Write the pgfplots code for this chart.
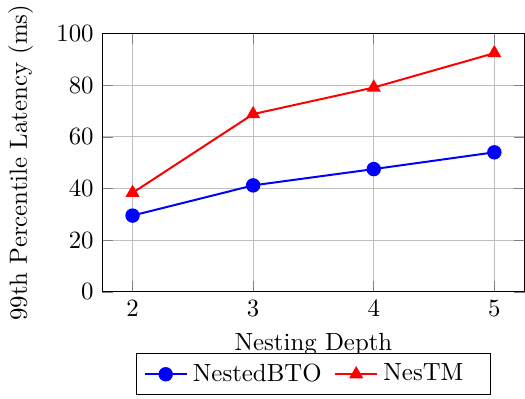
\documentclass[border=0pt]{standalone}
\usepackage{pgfplots}
\pgfplotsset{compat=1.18}
\usetikzlibrary{calc}
\begin{document}
\begin{tikzpicture}
\begin{axis}[
  name=ax,
  scale only axis,
  width=170pt, height=104pt,
  xmin=1.75, xmax=5.25,
  ymin=0, ymax=100,
  xtick={2,3,4,5},
  ytick={0,20,40,60,80,100},
  grid=major,
  xlabel={Nesting Depth},
  ylabel={99th Percentile Latency (ms)},
  ylabel style={yshift=2.5pt},
  legend columns=2,
  legend style={at={(0.5,-0.238)}, anchor=north,
    /tikz/every even column/.append style={column sep=3pt}},
]
\addplot[blue, thick, mark=*, mark size=2.5pt] coordinates {(2,29.5) (3,41.2) (4,47.5) (5,54.0)};
\addlegendentry{NestedBTO}
\addplot[red, thick, mark=triangle*, mark size=2.5pt] coordinates {(2,38.3) (3,68.8) (4,79.1) (5,92.4)};
\addlegendentry{NesTM\hspace{6pt}\rule[-8pt]{0pt}{8pt}}
\end{axis}
\coordinate (bl) at (ax.outer south west |- ax.south);
\coordinate (tr) at (ax.outer north east |- ax.north);
\pgfresetboundingbox
\path[use as bounding box] ($(bl)+(0,-43pt)$) rectangle ($(tr)+(0,13.5pt)$);
\end{tikzpicture}
\end{document}
